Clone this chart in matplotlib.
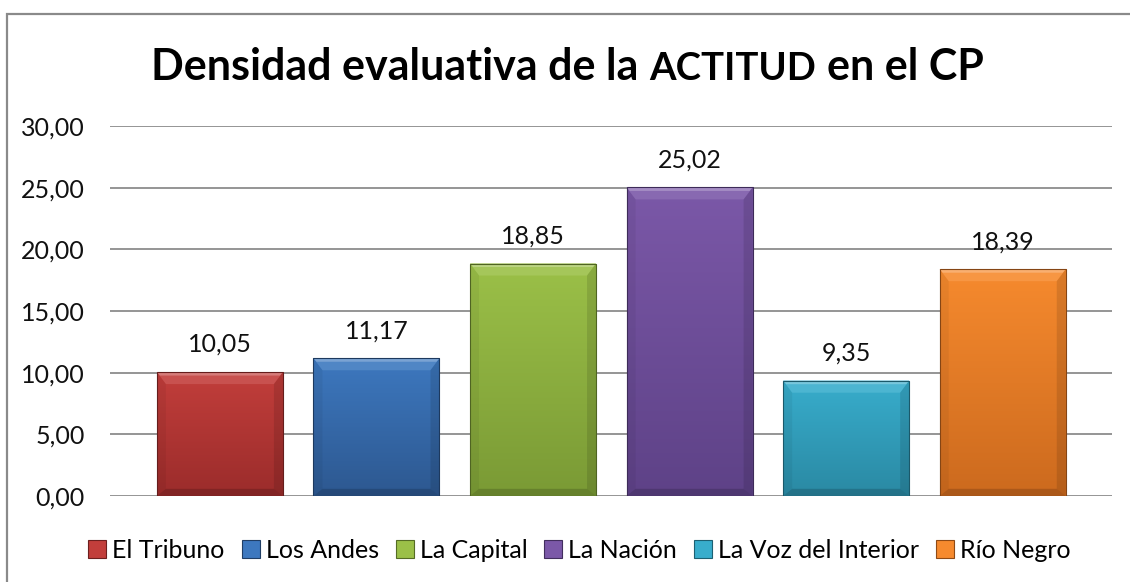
import matplotlib
matplotlib.use("Agg")
import matplotlib.pyplot as plt
import numpy as np
from matplotlib.patches import Polygon, Rectangle
from matplotlib.lines import Line2D
from matplotlib.colors import to_rgb, LinearSegmentedColormap

categories = ["El Tribuno", "Los Andes", "La Capital", "La Nación", "La Voz del Interior", "Río Negro"]
values = [10.05, 11.17, 18.85, 25.02, 9.35, 18.39]
value_labels = ["10,05", "11,17", "18,85", "25,02", "9,35", "18,39"]
yticks = [0, 5, 10, 15, 20, 25, 30]
ytick_labels = ["0,00", "5,00", "10,00", "15,00", "20,00", "25,00", "30,00"]
top_colors = ["#C23E3B", "#3D78BF", "#9BC048", "#7B58A8", "#38ADCC", "#F68A2E"]
bottom_colors = ["#9B2C2B", "#2D5890", "#7A9A35", "#5E4287", "#2A89A3", "#CC6A1E"]
title_parts = ["Densidad evaluativa de la", "ACTITUD", "en el CP"]

FONT = "Lato"
plt.rcParams["font.family"] = [FONT, "DejaVu Sans"]

W, H = 1130, 582
fig = plt.figure(figsize=(W / 100, H / 100), dpi=100)
fig.patch.set_facecolor("white")

def fx(px):
    return px / W

def fy(py):
    return (H - py) / H

# Outer chart border (runs off right and bottom edges)
fig.patches.append(Rectangle((fx(7), fy(H + 20)), fx(W + 40), (H + 20 - 13.5) / H,
                             transform=fig.transFigure, fill=False,
                             edgecolor="#8a8a8a", linewidth=1.6, zorder=0))

ax_left, ax_right, ax_top, ax_bot = 110, 1112, 126, 496
ax = fig.add_axes([fx(ax_left), fy(ax_bot), fx(ax_right - ax_left), (ax_bot - ax_top) / H])
ax.set_facecolor("none")

x = np.arange(len(categories))
bars = ax.bar(x, values, width=0.805, color=top_colors, zorder=3, linewidth=0)
ax.set_xlim(-0.702, 5.698)
ax.set_ylim(0, 30)

ax.set_yticks(yticks)
ax.set_yticklabels(ytick_labels, fontsize=18, color="#111111")
ax.tick_params(axis="y", length=0, pad=18)
ax.set_xticks([])
for s in ax.spines.values():
    s.set_visible(False)
ax.yaxis.grid(True, color="#8c8c8c", linewidth=1.3, zorder=0)
ax.set_axisbelow(True)

def mix(c, t, amount):
    c = np.array(to_rgb(c)); t = np.array(to_rgb(t))
    return tuple(c * (1 - amount) + t * amount)

inv = ax.transData.inverted()
bev_x, bev_y = 9.0, 12.0
for p, ct, cb in zip(bars.patches, top_colors, bottom_colors):
    x0, w, h = p.get_x(), p.get_width(), p.get_height()
    (px0, py0), (px1, py1) = ax.transData.transform([(x0, 0), (x0 + w, h)])
    cmap = LinearSegmentedColormap.from_list("g", [cb, ct])
    grad = np.linspace(0, 1, 256).reshape(-1, 1)
    im = ax.imshow(grad, extent=[x0, x0 + w, 0, h], origin="lower", aspect="auto",
                   cmap=cmap, zorder=4, interpolation="bilinear")
    im.set_clip_path(p)

    def D(pts):
        return inv.transform(pts)
    ix0, ix1 = px0 + bev_x, px1 - bev_x
    iy0, iy1 = py0 + bev_x * 0.8, py1 - bev_y
    # top bevel
    ax.add_patch(Polygon(D([(px0, py1), (px1, py1), (ix1, iy1), (ix0, iy1)]),
                         closed=True, facecolor=mix(ct, "white", 0.10), edgecolor="none", zorder=5))
    ax.add_patch(Polygon(D([(px0, py1), (px1, py1), (px1 - 3, py1 - 3.5), (px0 + 3, py1 - 3.5)]),
                         closed=True, facecolor=mix(ct, "white", 0.32), edgecolor="none", zorder=5))
    # left bevel
    ax.add_patch(Polygon(D([(px0, py1), (ix0, iy1), (ix0, iy0), (px0, py0)]),
                         closed=True, facecolor="black", edgecolor="none",
                         alpha=0.05, zorder=5))
    # right bevel
    ax.add_patch(Polygon(D([(px1, py1), (ix1, iy1), (ix1, iy0), (px1, py0)]),
                         closed=True, facecolor="black", edgecolor="none",
                         alpha=0.11, zorder=5))
    # bottom bevel
    ax.add_patch(Polygon(D([(px0, py0), (px1, py0), (ix1, iy0), (ix0, iy0)]),
                         closed=True, facecolor="black", edgecolor="none",
                         alpha=0.16, zorder=5))
    # outline
    ax.add_patch(Rectangle((x0, 0), w, h, fill=False, edgecolor=mix(cb, "black", 0.35),
                           linewidth=0.8, zorder=6))

for xi, v, lab in zip(x, values, value_labels):
    ax.annotate(lab, (xi, v), xytext=(0, 14.4), textcoords="offset points",
                ha="center", va="baseline", fontsize=18, color="#111111", zorder=7)

# Title made of pieces (smaller ACTITUD)
renderer = fig.canvas.get_renderer()
sizes = [31, 27.5, 31]
title_base = fy(80)
tmp = []
widths = []
for part, sz in zip(title_parts, sizes):
    t = fig.text(0, title_base, part, fontsize=sz, fontweight="bold", va="baseline", ha="left")
    widths.append(t.get_window_extent(renderer).width)
    tmp.append(t)
sp = fig.text(0, 0, "a a", fontsize=31, fontweight="bold")
sp2 = fig.text(0, 0, "aa", fontsize=31, fontweight="bold")
space_w = sp.get_window_extent(renderer).width - sp2.get_window_extent(renderer).width
sp.remove(); sp2.remove()
total = sum(widths) + 2 * space_w
cur = 567.5 - total / 2
for t, wdt in zip(tmp, widths):
    t.set_x(fx(cur))
    cur += wdt + space_w

handles = [Line2D([0], [0], marker="s", linestyle="none", markersize=12.5,
                  markerfacecolor=ct, markeredgecolor=mix(cb, "black", 0.3), markeredgewidth=0.8)
           for ct, cb in zip(top_colors, bottom_colors)]
leg = fig.legend(handles, categories, loc="center", bbox_to_anchor=(fx(579), fy(550)),
                 ncol=6, frameon=False, fontsize=18, handlelength=0.8, handletextpad=0.2,
                 columnspacing=0.64, borderaxespad=0)

fig.savefig("out.png", dpi=100, facecolor="white")
